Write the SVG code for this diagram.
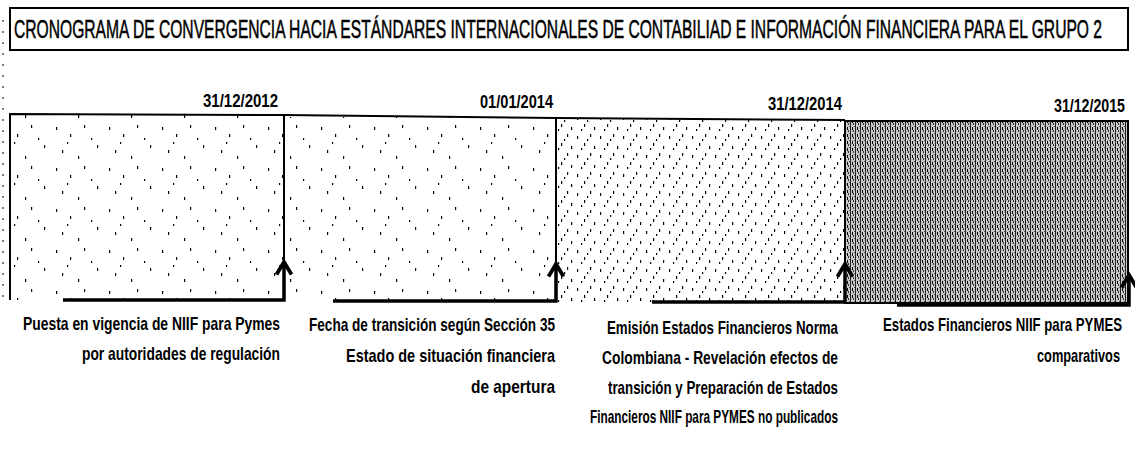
<svg xmlns="http://www.w3.org/2000/svg" width="1135" height="452" viewBox="0 0 1135 452">
<style>
.t{font-family:"Liberation Sans Narrow","Liberation Sans",Arial,sans-serif;fill:#000;font-weight:bold}
.title{font-size:25px;font-weight:normal;stroke:#000;stroke-width:0.5}
.date{font-size:19px}
.lbl{font-size:19px;text-anchor:end}
.edge{fill:none;stroke:#000;stroke-width:2}
.con{fill:none;stroke:#000;stroke-width:3.5}
</style>
<defs>
<pattern id="sparse" width="53" height="41" patternUnits="userSpaceOnUse">
<rect x="3" y="4" width="1.2" height="3"/><rect x="17" y="11" width="1.2" height="3"/><rect x="31" y="2" width="1.2" height="3"/><rect x="44" y="22" width="1.2" height="3"/><rect x="9" y="27" width="1.2" height="3"/><rect x="25" y="33" width="1.2" height="3"/><rect x="38" y="15" width="1.2" height="2"/><rect x="14" y="19" width="1.2" height="2"/>
</pattern>
<pattern id="medium" width="23" height="19" patternUnits="userSpaceOnUse">
<rect x="2" y="3" width="1.2" height="3"/><rect x="9" y="10" width="1.2" height="3"/><rect x="15" y="1" width="1.2" height="3"/><rect x="19" y="13" width="1.2" height="3"/><rect x="6" y="15" width="1.2" height="2"/><rect x="12" y="6" width="1.2" height="2"/>
</pattern>
<pattern id="dense" width="5" height="7" patternUnits="userSpaceOnUse">
<rect width="5" height="7" fill="#c8c8c8"/><rect x="0" y="0" width="1" height="7" fill="#222"/><rect x="2" y="1" width="1" height="3" fill="#000"/><rect x="3" y="4" width="1" height="2" fill="#333"/><rect x="4" y="0" width="1" height="1" fill="#555"/>
</pattern>
<marker id="arr" markerUnits="userSpaceOnUse" markerWidth="20" markerHeight="20" viewBox="-12 -8 14 16" refX="0" refY="0" orient="auto">
<path d="M-10,-6 L0,0 L-10,6" fill="none" stroke="#000" stroke-width="3"/>
</marker>
</defs>

<line x1="3" y1="20" x2="3" y2="300" stroke="#000" stroke-width="1" stroke-dasharray="2 9"/>

<g id="title">
<rect x="10" y="8" width="1118" height="42" class="edge"/>
<text class="t title" x="14" y="38" textLength="1088" lengthAdjust="spacingAndGlyphs">CRONOGRAMA DE CONVERGENCIA HACIA ESTÁNDARES INTERNACIONALES DE CONTABILIAD E INFORMACIÓN FINANCIERA PARA EL GRUPO 2</text>
</g>

<g id="timeline">
<rect x="11" y="115" width="273" height="185" fill="url(#sparse)"/>
<rect x="285" y="117" width="271" height="184" fill="url(#sparse)"/>
<rect x="557" y="119" width="288" height="183" fill="url(#medium)"/>
<polyline points="10,300 10,114 284,115 556,118 845,120" class="edge"/>
<line x1="284" y1="115" x2="284" y2="300" class="edge"/>
<line x1="556" y1="118" x2="556" y2="301" class="edge"/>
</g>

<g id="period4">
<rect x="845" y="121" width="283" height="182" style="fill:url(#dense);stroke:#000;stroke-width:2"/>
</g>

<g id="date1"><text class="t date" x="203" y="107" textLength="75" lengthAdjust="spacingAndGlyphs">31/12/2012</text></g>
<g id="date2"><text class="t date" x="480" y="108" textLength="73" lengthAdjust="spacingAndGlyphs">01/01/2014</text></g>
<g id="date3"><text class="t date" x="768" y="110" textLength="74" lengthAdjust="spacingAndGlyphs">31/12/2014</text></g>
<g id="date4"><text class="t date" x="1054" y="112" textLength="71" lengthAdjust="spacingAndGlyphs">31/12/2015</text></g>

<g id="connectors">
<path d="M63,300 H284 V262" class="con" marker-end="url(#arr)"/>
<path d="M333,301 H556 V264" class="con" marker-end="url(#arr)"/>
<path d="M652,302 H845 V264" class="con" marker-end="url(#arr)"/>
<path d="M897,305 H1129 V275" class="con" marker-end="url(#arr)"/>
</g>

<g id="label1">
<text class="t lbl" x="280" y="330" textLength="257" lengthAdjust="spacingAndGlyphs">Puesta en vigencia de NIIF para Pymes</text>
<text class="t lbl" x="280" y="360" textLength="198" lengthAdjust="spacingAndGlyphs">por autoridades de regulación</text>
</g>
<g id="label2">
<text class="t lbl" x="555" y="331" textLength="246" lengthAdjust="spacingAndGlyphs">Fecha de transición según Sección 35</text>
<text class="t lbl" x="555" y="362" textLength="209" lengthAdjust="spacingAndGlyphs">Estado de situación financiera</text>
<text class="t lbl" x="555" y="393" textLength="84" lengthAdjust="spacingAndGlyphs">de apertura</text>
</g>
<g id="label3">
<text class="t lbl" x="838" y="334" textLength="231" lengthAdjust="spacingAndGlyphs">Emisión Estados Financieros Norma</text>
<text class="t lbl" x="838" y="364" textLength="236" lengthAdjust="spacingAndGlyphs">Colombiana - Revelación efectos de</text>
<text class="t lbl" x="838" y="394" textLength="230" lengthAdjust="spacingAndGlyphs">transición y Preparación de Estados</text>
<text class="t lbl" x="838" y="423" textLength="248" lengthAdjust="spacingAndGlyphs">Financieros NIIF para PYMES no publicados</text>
</g>
<g id="label4">
<text class="t lbl" x="1122" y="331" textLength="239" lengthAdjust="spacingAndGlyphs">Estados Financieros NIIF para PYMES</text>
<text class="t lbl" x="1120" y="362" textLength="83" lengthAdjust="spacingAndGlyphs">comparativos</text>
</g>
</svg>
